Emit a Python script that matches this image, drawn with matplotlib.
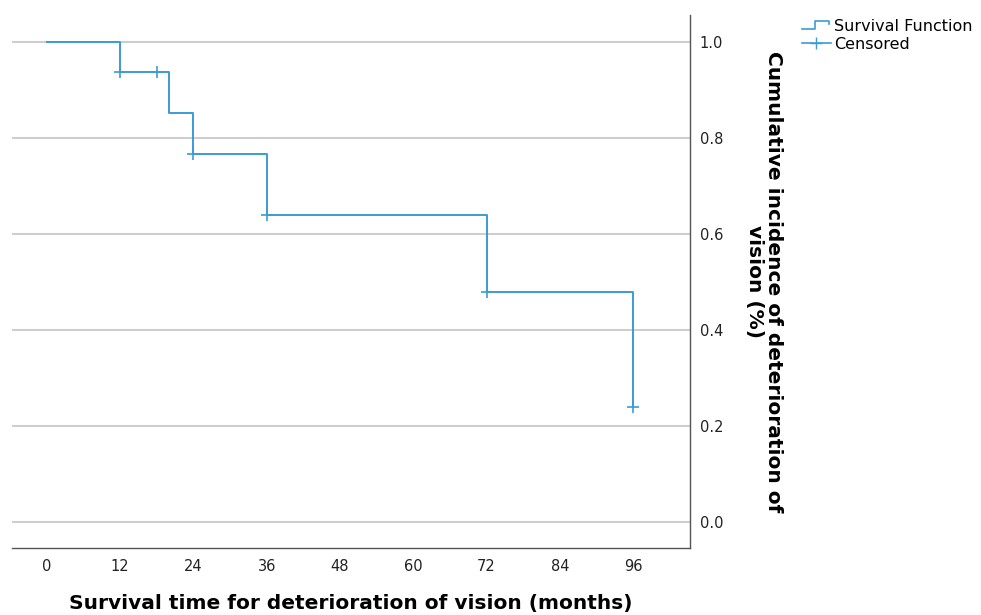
import matplotlib
matplotlib.use("Agg")
import matplotlib.pyplot as plt
from matplotlib.legend_handler import HandlerBase
from matplotlib.lines import Line2D

# Data (Kaplan-Meier estimate)
event_times = [0, 12, 20, 24, 36, 72, 96]
survival = [1.0, 0.9375, 0.852, 0.767, 0.639, 0.479, 0.240]
censor_times = [12, 18, 24, 36, 72, 96]
censor_values = [0.9375, 0.9375, 0.767, 0.639, 0.479, 0.240]
x_ticks = [0, 12, 24, 36, 48, 60, 72, 84, 96]
y_ticks = [0.0, 0.2, 0.4, 0.6, 0.8, 1.0]

color = "#3d9bd6"
grid_color = "#c4c4c4"

plt.rcParams['font.family'] = ['DejaVu Sans']

fig = plt.figure(figsize=(9.81, 6.15), dpi=100)
ax = fig.add_axes([0.0122, 0.1089, 0.6912, 0.8667])

for yv in y_ticks:
    ax.axhline(yv, color=grid_color, lw=1.2, zorder=0)

ax.step(event_times, survival, where="post", color=color, lw=1.4, zorder=3)
ax.plot(censor_times, censor_values, linestyle="none", marker="+",
        markersize=9, markeredgewidth=1.2, color=color, zorder=4)

ax.set_xlim(-5.7, 105.3)
ax.set_ylim(-0.054, 1.056)
ax.set_xticks(x_ticks)
ax.set_xticklabels([str(t) for t in x_ticks])
ax.set_yticks(y_ticks)
ax.set_yticklabels([f"{t:.1f}" for t in y_ticks])
ax.yaxis.tick_right()
ax.yaxis.set_label_position("right")
ax.tick_params(axis="both", length=0, labelsize=10.5, colors="#222222")
ax.tick_params(axis="x", pad=8)
ax.tick_params(axis="y", pad=7)

for s in ["top", "left"]:
    ax.spines[s].set_visible(False)
for s in ["right", "bottom"]:
    ax.spines[s].set_color("#555555")
    ax.spines[s].set_linewidth(1.0)

ax.set_xlabel("Survival time for deterioration of vision (months)",
              fontsize=14.5, fontweight="bold", labelpad=14)
ax.set_ylabel("Cumulative incidence of deterioration of\nvision (%)",
              fontsize=14.5, fontweight="bold", rotation=-90, labelpad=43,
              linespacing=1.0)


class StepHandler(HandlerBase):
    def create_artists(self, legend, orig_handle, xdescent, ydescent,
                       width, height, fontsize, trans):
        w, h = width, height
        xs = [-xdescent, -xdescent + 0.45 * w, -xdescent + 0.45 * w,
              -xdescent + 0.95 * w, -xdescent + 0.95 * w]
        ys = [-ydescent + 0.15 * h, -ydescent + 0.15 * h, -ydescent + 0.85 * h,
              -ydescent + 0.85 * h, -ydescent + 0.55 * h]
        ln = Line2D(xs, ys, color=color, lw=1.2, transform=trans)
        return [ln]


step_handle = Line2D([], [], color=color)
cens_handle = Line2D([0, 1], [0, 0], color=color, marker="+", markersize=9,
                     lw=1.2)
leg = fig.legend([step_handle, cens_handle], ["Survival Function", "Censored"],
                 handler_map={step_handle: StepHandler()},
                 loc="upper left", bbox_to_anchor=(0.806, 0.988),
                 frameon=False, fontsize=11.5, handlelength=1.8,
                 handletextpad=0.2, labelspacing=0.2, borderpad=0.2)

fig.savefig("out.png", dpi=100)
